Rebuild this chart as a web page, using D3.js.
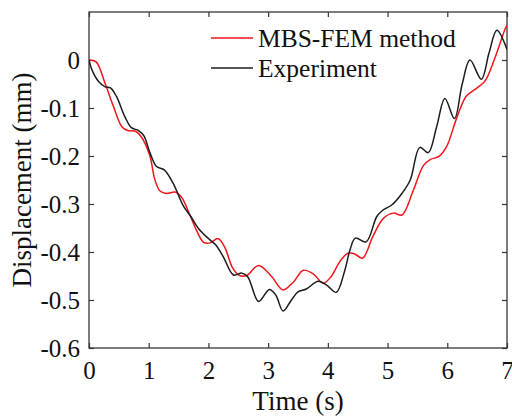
<!DOCTYPE html>
<html>
<head>
<meta charset="utf-8">
<script src="https://cdn.jsdelivr.net/npm/d3@7"></script>
</head>
<body style="margin:0">
<svg id="chart" width="512" height="416" font-family="Liberation Serif"></svg>
<script>
// simulated response (MBS-FEM)
var femTime = [0.00, 0.12, 0.27, 0.41, 0.55, 0.65, 0.77, 0.88, 1.02, 1.10, 1.19, 1.30, 1.44, 1.55,
  1.69, 1.80, 1.92, 2.03, 2.16, 2.28, 2.40, 2.52, 2.64, 2.84, 3.05, 3.25, 3.42, 3.59, 3.76, 3.92,
  4.05, 4.20, 4.33, 4.45, 4.58, 4.76, 4.93, 5.10, 5.24, 5.43, 5.60, 5.72, 5.86, 5.99, 6.16, 6.32,
  6.49, 6.63, 6.80, 6.97, 7.00];
var femDisp = [0.000, -0.004, -0.049, -0.097, -0.139, -0.147, -0.148, -0.161, -0.200, -0.248, -0.273,
  -0.278, -0.275, -0.286, -0.323, -0.355, -0.380, -0.381, -0.372, -0.392, -0.432, -0.449, -0.449,
  -0.428, -0.450, -0.479, -0.463, -0.438, -0.446, -0.465, -0.452, -0.420, -0.403, -0.404, -0.413,
  -0.366, -0.330, -0.319, -0.323, -0.272, -0.220, -0.207, -0.201, -0.180, -0.120, -0.075, -0.059,
  -0.044, 0.005, 0.065, 0.072];

// measured response
var expTime = [0.00, 0.05, 0.16, 0.27, 0.36, 0.46, 0.60, 0.71, 0.83, 0.92, 1.02, 1.13, 1.26, 1.41,
  1.58, 1.70, 1.84, 2.00, 2.12, 2.25, 2.42, 2.56, 2.66, 2.84, 3.02, 3.13, 3.25, 3.39, 3.50, 3.64,
  3.84, 3.98, 4.14, 4.28, 4.37, 4.46, 4.64, 4.82, 4.93, 5.07, 5.24, 5.38, 5.54, 5.68, 5.82, 5.96,
  6.12, 6.25, 6.38, 6.57, 6.70, 6.83, 7.00];
var expDisp = [0.000, -0.021, -0.045, -0.056, -0.058, -0.076, -0.118, -0.141, -0.147, -0.158, -0.193,
  -0.222, -0.229, -0.257, -0.304, -0.325, -0.352, -0.372, -0.385, -0.410, -0.448, -0.444, -0.452,
  -0.503, -0.478, -0.490, -0.523, -0.500, -0.483, -0.477, -0.461, -0.469, -0.484, -0.440, -0.396,
  -0.371, -0.379, -0.326, -0.312, -0.302, -0.278, -0.250, -0.182, -0.193, -0.140, -0.080, -0.122,
  -0.050, 0.000, -0.040, 0.015, 0.062, 0.022];

var xTicks = [0, 1, 2, 3, 4, 5, 6, 7];
var yTicks = [-0.6, -0.5, -0.4, -0.3, -0.2, -0.1, 0];

var seriesNames = ['MBS-FEM method', 'Experiment'];
var seriesColors = ['#f4151b', '#1c1c1c'];

var margin = { top: 12, right: 5, bottom: 68, left: 89 };
var svg = d3.select('#chart');
var width = +svg.attr('width') - margin.left - margin.right;
var height = +svg.attr('height') - margin.top - margin.bottom;
var axisColor = '#3a3535';
var fontName = 'Liberation Serif';

var x = d3.scaleLinear().domain([0, 7]).range([0, width]);
var y = d3.scaleLinear().domain([-0.6, 0.1]).range([height, 0]);

var g = svg.append('g')
  .attr('transform', 'translate(' + margin.left + ',' + margin.top + ')');

g.append('clipPath').attr('id', 'plotClip')
  .append('rect').attr('width', width).attr('height', height);

// ticks point inwards on all four sides (box on)
function styleAxis(sel) {
  sel.select('.domain').remove();
  sel.selectAll('.tick line').attr('stroke', axisColor).attr('stroke-width', 1.2);
  sel.selectAll('text')
    .attr('fill', '#111')
    .attr('font-family', fontName)
    .attr('font-size', 25);
}

g.append('g')
  .attr('transform', 'translate(0,' + height + ')')
  .call(d3.axisBottom(x).tickValues(xTicks).tickFormat(d3.format('d'))
    .tickSizeInner(-5).tickSizeOuter(0).tickPadding(13))
  .call(styleAxis)
  .selectAll('text').attr('dy', '0.71em');

g.append('g')
  .call(d3.axisTop(x).tickValues(xTicks).tickFormat('').tickSizeInner(-5).tickSizeOuter(0))
  .call(styleAxis);

g.append('g')
  .call(d3.axisLeft(y).tickValues(yTicks).tickFormat(function(d) { return d === 0 ? '0' : d3.format('.1f')(d).replace('\u2212', '-'); })
    .tickSizeInner(-5).tickSizeOuter(0).tickPadding(9))
  .call(styleAxis);

g.append('g')
  .attr('transform', 'translate(' + width + ',0)')
  .call(d3.axisRight(y).tickValues(yTicks).tickFormat('').tickSizeInner(-5).tickSizeOuter(0))
  .call(styleAxis);

g.append('rect')
  .attr('width', width)
  .attr('height', height)
  .attr('fill', 'none')
  .attr('stroke', axisColor)
  .attr('stroke-width', 1.3);

var line = d3.line()
  .x(function(d) { return x(d[0]); })
  .y(function(d) { return y(d[1]); })
  .curve(d3.curveCatmullRom.alpha(0.5));

var series = [
  d3.zip(femTime, femDisp),
  d3.zip(expTime, expDisp)
];

g.append('g').attr('clip-path', 'url(#plotClip)')
  .selectAll('path')
  .data(series)
  .join('path')
  .attr('d', line)
  .attr('fill', 'none')
  .attr('stroke', function(d, i) { return seriesColors[i]; })
  .attr('stroke-width', 1.5);

// legend, no box
var legend = svg.append('g').attr('transform', 'translate(211,38)');

var items = legend.selectAll('g')
  .data(seriesNames)
  .join('g')
  .attr('transform', function(d, i) { return 'translate(0,' + (i * 30) + ')'; });

items.append('line')
  .attr('x1', 0).attr('x2', 42)
  .attr('stroke', function(d, i) { return seriesColors[i]; })
  .attr('stroke-width', 1.5);

items.append('text')
  .attr('x', 47)
  .attr('y', 9)
  .attr('fill', '#111')
  .attr('font-family', fontName)
  .attr('font-size', 25.5)
  .text(function(d) { return d; });

// axis titles
svg.append('text')
  .attr('x', margin.left + width / 2)
  .attr('y', 410)
  .attr('text-anchor', 'middle')
  .attr('fill', '#111')
  .attr('font-family', fontName)
  .attr('font-size', 27)
  .text('Time (s)');

svg.append('text')
  .attr('transform', 'translate(31,' + (margin.top + height / 2) + ') rotate(-90)')
  .attr('text-anchor', 'middle')
  .attr('fill', '#111')
  .attr('font-family', fontName)
  .attr('font-size', 27)
  .text('Displacement (mm)');
</script>
</body>
</html>
